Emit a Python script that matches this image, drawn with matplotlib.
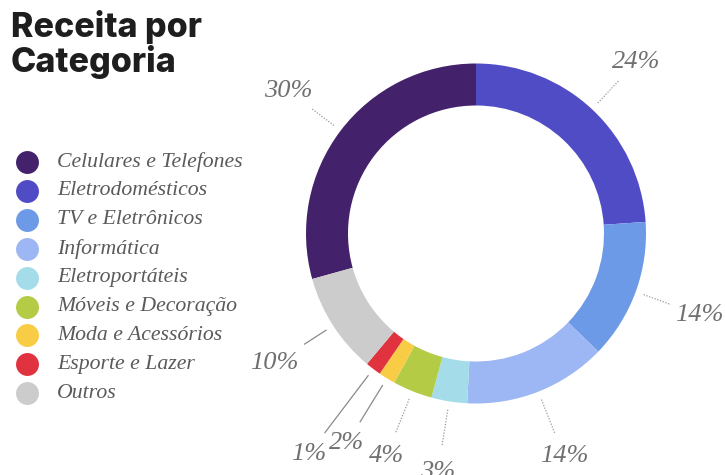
import numpy as np
import matplotlib.pyplot as plt

# Data
categories = ['Celulares e Telefones', 'Eletrodomésticos', 'TV e Eletrônicos',
              'Informática', 'Eletroportáteis', 'Móveis e Decoração',
              'Moda e Acessórios', 'Esporte e Lazer', 'Outros']
shares = [29.3, 23.9, 13.3, 13.6, 3.4, 3.75, 1.6, 1.5, 9.6]
pct_labels = ['30%', '24%', '14%', '14%', '3%', '4%', '2%', '1%', '10%']
colors = ['#43216b', '#504cc6', '#6d9ae6', '#9db6f4', '#a4dde9',
          '#b3cb45', '#f9cc46', '#e1333f', '#cccccc']

# label placement (multiples of the outer radius) and leader line styles
label_r = [1.39, 1.38, 1.40, 1.41, 1.42, 1.41, 1.45, 1.63, 1.41]
line_end = [1.21, 1.23, 1.22, 1.27, 1.27, 1.27, 1.30, 1.47, 1.20]
line_style = [':', ':', ':', ':', ':', ':', '-', '-', '-']

W, H = 725, 475
fig = plt.figure(figsize=(W / 100, H / 100), dpi=100)
ax = fig.add_axes([0, 0, 1, 1])

R = 170
cx, cy = 476, H - 233.5
start = 90 + 360 * shares[0] / sum(shares)
wedges, _ = ax.pie(shares, colors=colors, radius=R, center=(cx, cy),
                   startangle=start, counterclock=False,
                   wedgeprops=dict(width=42, linewidth=0))

for w, lab, lr, le, ls in zip(wedges, pct_labels, label_r, line_end, line_style):
    mid = np.deg2rad((w.theta1 + w.theta2) / 2)
    c, s = np.cos(mid), np.sin(mid)
    if ls == ':':
        ax.plot([cx + 1.05 * R * c, cx + le * R * c], [cy + 1.05 * R * s, cy + le * R * s],
                color='#9a9a9a', lw=0.9, linestyle=(0, (1, 1.3)))
    else:
        ax.plot([cx + 1.05 * R * c, cx + le * R * c], [cy + 1.05 * R * s, cy + le * R * s],
                color='#8a8a8a', lw=0.9)
    ax.text(cx + lr * R * c, cy + lr * R * s, lab, ha='center', va='center',
            fontsize=19, family='Liberation Serif', style='italic', color='#707070')

# title
ax.text(11, H - 37, 'Receita por', fontsize=24.5, family='Inter', weight='heavy',
        color='#1e1e1e', va='baseline')
ax.text(11, H - 72, 'Categoria', fontsize=24.5, family='Inter', weight='heavy',
        color='#1e1e1e', va='baseline')

# legend
for i, (cat, col) in enumerate(zip(categories, colors)):
    y = H - (162 + i * 28.9)
    ax.plot(27, y, 'o', ms=16.5, color=col, mec='none')
    ax.text(57, y, cat, fontsize=15.7, family='Liberation Serif', style='italic',
            color='#5a5a5a', va='center')

ax.set_xlim(0, W)
ax.set_ylim(0, H)
ax.set_aspect('auto')
ax.axis('off')

fig.savefig('out.png', dpi=100)
